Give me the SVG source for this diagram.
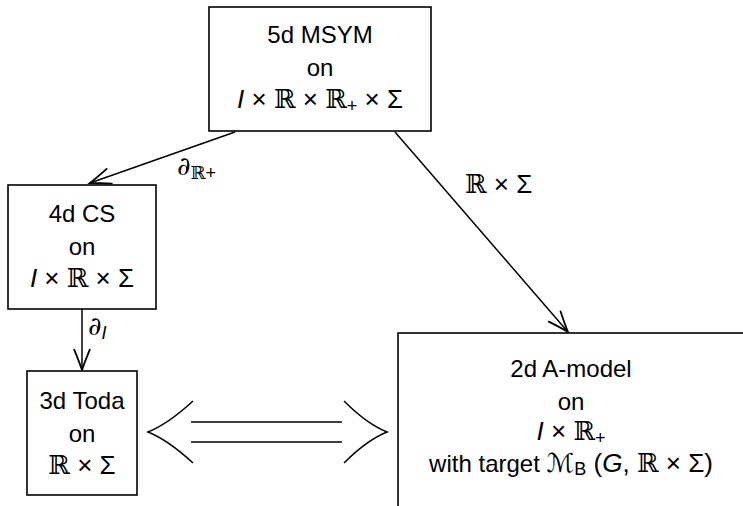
<svg xmlns="http://www.w3.org/2000/svg" width="743" height="506" viewBox="0 0 743 506">
  <style>
    .box { fill: #fff; stroke: #000; stroke-width: 1.6; }
    .edge { fill: none; stroke: #000; stroke-width: 1.5; }
    .t { font-family: "Liberation Sans", Arial, sans-serif; font-size: 24px; fill: #000; text-anchor: middle; }
    .m { font-size: 26px; }
    .lbl { font-family: "Liberation Sans", Arial, sans-serif; font-size: 26px; fill: #000; }
    .it { font-style: italic; }
    .bb { font-family: "DejaVu Serif", "DejaVu Sans", serif; font-weight: normal; }
    .sub { font-size: 18px; }
    .d { font-family: "DejaVu Serif", "Liberation Serif", serif; font-style: italic; }
    .scr { font-family: "DejaVu Sans", sans-serif; font-style: italic; }
  </style>
  <defs>
    <marker id="to" markerUnits="userSpaceOnUse" markerWidth="24" markerHeight="20" refX="0" refY="0" viewBox="-18 -8 20 16" orient="auto" overflow="visible">
      <path d="M-17,-6.5 Q-6,-2 0,0 Q-6,2 -17,6.5" fill="none" stroke="#000" stroke-width="1.5" stroke-linecap="round"/>
    </marker>
  </defs>

  <!-- connectors -->
  <g id="connectors">
    <line class="edge" x1="235" y1="132" x2="90" y2="183" marker-end="url(#to)"/>
    <line class="edge" x1="395" y1="132" x2="568" y2="332" marker-end="url(#to)"/>
    <line class="edge" x1="82" y1="309" x2="82" y2="370" marker-end="url(#to)"/>
    <!-- equivalence double arrow -->
    <line class="edge" x1="191" y1="422" x2="342" y2="422"/>
    <line class="edge" x1="191" y1="442" x2="342" y2="442"/>
    <path class="edge" d="M193,401 Q168,424 148,432 Q168,440 193,463"/>
    <path class="edge" d="M344,401 Q367,424 387,432 Q367,440 344,463"/>
    <!-- edge labels -->
    <text class="lbl" x="177" y="175"><tspan class="d">∂</tspan><tspan class="bb sub" dy="4">ℝ</tspan><tspan class="sub">+</tspan></text>
    <text class="lbl" x="88" y="335"><tspan class="d">∂</tspan><tspan class="it sub" dy="4">I</tspan></text>
    <text class="lbl" x="465" y="193"><tspan class="bb">ℝ</tspan> × Σ</text>
  </g>

  <g id="msym5d">
    <rect class="box" x="209" y="7" width="222" height="124"/>
    <text class="t" x="320" y="43">5d MSYM</text>
    <text class="t" x="320" y="76">on</text>
    <text class="t m" x="320" y="108"><tspan class="it">I</tspan> × <tspan class="bb">ℝ</tspan> × <tspan class="bb">ℝ</tspan><tspan class="sub" dy="4">+</tspan><tspan dy="-4"> × Σ</tspan></text>
  </g>

  <g id="cs4d">
    <rect class="box" x="8" y="185" width="148" height="124"/>
    <text class="t" x="82" y="222">4d CS</text>
    <text class="t" x="82" y="255">on</text>
    <text class="t m" x="82" y="287"><tspan class="it">I</tspan> × <tspan class="bb">ℝ</tspan> × Σ</text>
  </g>

  <g id="toda3d">
    <rect class="box" x="27" y="371" width="110" height="124"/>
    <text class="t" x="82" y="409">3d Toda</text>
    <text class="t" x="82" y="442">on</text>
    <text class="t m" x="82" y="474"><tspan class="bb">ℝ</tspan> × Σ</text>
  </g>

  <g id="amodel2d">
    <rect class="box" x="398" y="333" width="360" height="190"/>
    <text class="t" x="571" y="377">2d A-model</text>
    <text class="t" x="571" y="410">on</text>
    <text class="t m" x="571" y="440"><tspan class="it">I</tspan> × <tspan class="bb">ℝ</tspan><tspan class="sub" dy="4">+</tspan></text>
    <text class="t" x="571" y="472">with target <tspan class="scr m">ℳ</tspan><tspan class="sub" dy="3">B</tspan><tspan class="m" dy="-3"> (</tspan><tspan class="it m">G</tspan><tspan class="m">, </tspan><tspan class="bb m">ℝ</tspan><tspan class="m"> × Σ)</tspan></text>
  </g>
</svg>
